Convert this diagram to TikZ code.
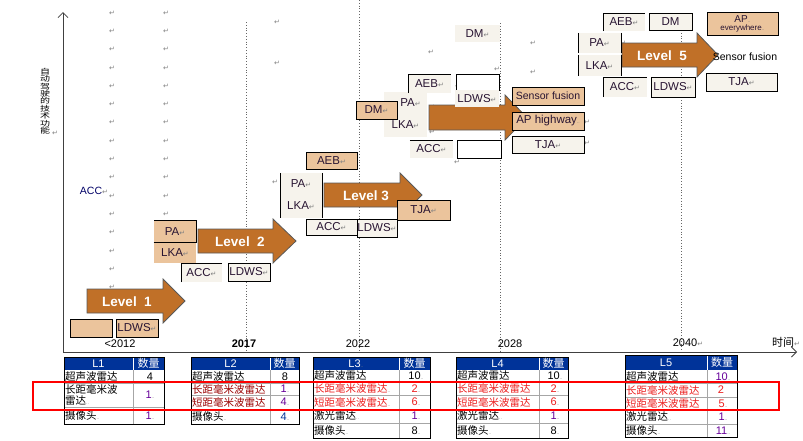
\documentclass[tikz,border=0pt]{standalone}
\usepackage{fontspec}
\usepackage{graphicx}
\setmainfont{Liberation Sans}
\newfontfamily\cjk{Noto Sans CJK SC}
\newfontfamily\symf{DejaVu Sans}
\usetikzlibrary{arrows.meta}
\definecolor{arrowbrown}{RGB}{192,112,40}
\definecolor{tanfill}{RGB}{235,196,156}
\definecolor{paperfill}{RGB}{246,243,236}
\definecolor{hdblue}{RGB}{0,51,153}
\definecolor{numpurple}{RGB}{102,0,153}
\definecolor{rowred}{RGB}{235,30,30}
\definecolor{labelink}{RGB}{40,20,50}
\newcommand{\retmark}{{\symf\color{black!50}\fontsize{7}{7}\selectfont ↵}}
\newcommand{\dotmark}{{\color{black!50}\fontsize{5}{5}\selectfont ..}}
\begin{document}
\begin{tikzpicture}[x=1pt, y=-1pt, font=\fontsize{11.5}{12}\selectfont,
  tanbox/.style={fill=tanfill, draw=black, line width=0.6pt, inner sep=0pt, text=labelink},
  paperbox/.style={fill=paperfill, inner sep=0pt, text=labelink},
  framed/.style={draw=black, line width=0.6pt},
  edgeline/.style={black, line width=0.6pt},
  lvlarrow/.style={fill=arrowbrown, draw=black!65, line width=0.8pt},
  lvltext/.style={text=white, font=\fontsize{13.5}{14}\selectfont\bfseries},
  timeline/.style={black!60, dotted, line width=0.8pt},
  axis/.style={black!75, line width=0.8pt, -{Straight Barb[length=5pt,width=10pt]}},
  yearlbl/.style={font=\fontsize{11}{12}\selectfont, inner sep=0pt},
  hdtext/.style={text=white, inner sep=0pt, font=\fontsize{11}{12}\selectfont},
  cell/.style={anchor=west, inner sep=0pt, font=\cjk\fontsize{10.5}{11.5}\selectfont},
  num/.style={inner sep=0pt, font=\fontsize{11}{12}\selectfont},
  tabgrid/.style={black!35, line width=0.6pt},
  tabframe/.style={black, line width=1pt}]
\useasboundingbox (0,0) rectangle (803,440);

% axes and year lines
\coordinate (orig) at (63,352);
\coordinate (ytop) at (63,12);
\coordinate (xend) at (797,352);
\draw[timeline] (246,22) -- (246,352);
\draw[timeline] (359,0) -- (359,352);
\draw[timeline] (500,23) -- (500,352);
\draw[timeline] (681,30) -- (681,352);
\draw[axis] (orig) -- (ytop);
\draw[axis] (orig) -- (xend);
\node[inner sep=0pt] (ylbl) at (45,101) {\scalebox{1}[0.74]{\parbox{11pt}{\centering\lineskiplimit=-20pt\cjk\fontsize{10}{10}\selectfont 自\\动\\驾\\驶\\的\\技\\术\\功\\能}}};
\node[inner sep=0pt] (ylblmark) at (55,133) {\retmark};
\node[yearlbl] (y2012) at (120,344) {<2012};
\node[yearlbl, font=\fontsize{11}{12}\selectfont\bfseries] (y2017) at (244,344) {2017};
\node[yearlbl] (y2022) at (358,344) {2022};
\node[yearlbl] (y2028) at (510,344) {2028};
\node[yearlbl] (y2040) at (688,343) {2040\retmark};
\node[yearlbl] (xlbl) at (786,342) {\cjk 时间\retmark};

% stray paragraph marks
\foreach \i in {0,...,15} \node[inner sep=0pt] (ma\i) at (112,13+18.3*\i) {\retmark};
\foreach \i in {0,...,11} \node[inner sep=0pt] (mb\i) at (166,13+18.3*\i) {\retmark};
\foreach \px/\py [count=\k] in {277/22, 277/63, 431/52, 497/69, 533/43, 533/72, 275/182, 458/86, 432/107, 432/132, 457/162, 587/122, 587/143, 623/43}
  \node[inner sep=0pt] (mc\k) at (\px,\py) {\retmark};
\node[inner sep=0pt, font=\fontsize{10.5}{11}\selectfont, text=black!60!blue] (accold) at (94,191) {ACC\retmark};

% level arrows
\draw[lvlarrow] (87,289) -- (163,289) -- (163,279) -- (185,301) -- (163,323) -- (163,313) -- (87,313) -- cycle;
\node[lvltext] (lvl1) at (127,302) {Level\ \ 1};
\draw[lvlarrow] (198,229) -- (273,229) -- (273,219) -- (296,241) -- (273,263) -- (273,253) -- (198,253) -- cycle;
\node[lvltext] (lvl2) at (240,242) {Level\ \ 2};
\draw[lvlarrow] (324,183) -- (400,183) -- (400,173) -- (422,195) -- (400,217) -- (400,207) -- (324,207) -- cycle;
\node[lvltext] (lvl3) at (366,196) {Level 3};
\draw[lvlarrow] (429,105) -- (505,105) -- (505,95) -- (527,117.5) -- (505,140) -- (505,130) -- (429,130) -- cycle;
\draw[lvlarrow] (622,43) -- (697,43) -- (697,33) -- (718,55) -- (697,77) -- (697,67) -- (622,67) -- cycle;
\node[lvltext] (lvl5) at (662,56) {Level\ \ 5};

% level 1
\node[tanbox, minimum width=42, minimum height=18] (blank1) at (91,328) {};
\node[tanbox, minimum width=42, minimum height=18] (ldws1) at (137,328) {LDWS\retmark};

% level 2
\node[tanbox, draw=none, minimum width=42, minimum height=21] (pa2) at (175,231.5) {PA\retmark};
\node[tanbox, draw=none, minimum width=42, minimum height=21] (lka2) at (175,252.5) {LKA\retmark};
\draw[edgeline] (pa2.south west) -- (pa2.south east) -- (pa2.north east) -- (pa2.north west);
\node[paperbox, minimum width=41, minimum height=19] (acc2) at (201.5,272.5) {ACC\retmark};
\draw[edgeline] (acc2.south west) |- (acc2.north east);
\node[paperbox, framed, minimum width=42, minimum height=18] (ldws2) at (249,272) {LDWS\retmark};

% level 3
\node[tanbox, minimum width=51, minimum height=17] (aeb3) at (331.5,160.5) {AEB\retmark};
\node[paperbox, minimum width=42, minimum height=21] (pa3) at (301,183.5) {PA\retmark};
\node[paperbox, minimum width=42, minimum height=24] (lka3) at (301,206) {LKA\retmark};
\draw[edgeline] (pa3.north west) -- (lka3.south west);
\draw[edgeline] (pa3.north east) -- (lka3.south east);
\node[paperbox, minimum width=51, minimum height=16] (acc3) at (331.5,227) {ACC\retmark};
\draw[edgeline] (acc3.north east) -| (acc3.south west) -- (acc3.south east);
\node[paperbox, framed, minimum width=40, minimum height=18] (ldws3) at (377,228) {LDWS\retmark};
\node[tanbox, minimum width=53, minimum height=20] (tja3) at (423.5,210) {TJA\retmark};

% level 4
\node[paperbox, minimum width=45, minimum height=17] (dm4b) at (477.5,33.5) {DM\retmark};
\node[paperbox, minimum width=43, minimum height=21] (pa4) at (405.5,102.5) {\hspace*{10pt}PA\retmark};
\node[paperbox, minimum width=43, minimum height=24] (lka4) at (405.5,125) {LKA\retmark};
\node[tanbox, minimum width=41, minimum height=18] (dm4a) at (376.5,110) {DM\retmark};
\node[paperbox, minimum width=43, minimum height=19] (aeb4) at (429.5,83.5) {AEB\retmark};
\draw[edgeline] (aeb4.south west) |- (aeb4.north east);
\node[fill=white, framed, minimum width=43, minimum height=16, inner sep=0pt] (blank4a) at (477.5,82) {};
\node[paperbox, minimum width=44, minimum height=17] (ldws4) at (477,98.5) {LDWS\retmark};
\node[paperbox, minimum width=43, minimum height=18] (acc4) at (431.5,149) {ACC\retmark};
\draw[edgeline] (acc4.north west) -- (acc4.north east);
\node[fill=white, framed, minimum width=44, minimum height=18, inner sep=0pt] (blank4b) at (479,149) {};
\node[tanbox, minimum width=72, minimum height=18, font=\fontsize{10.5}{11}\selectfont] (sf4) at (548,96) {Sensor fusion};
\node[tanbox, minimum width=72, minimum height=18] (aph4) at (548,121) {AP highway\dotmark};
\node[paperbox, framed, minimum width=72, minimum height=17] (tja4) at (548,144.5) {TJA\retmark};

% level 5
\node[paperbox, minimum width=42, minimum height=18] (aeb5) at (624,22) {AEB\retmark};
\draw[edgeline] (aeb5.south west) |- (aeb5.north east);
\node[paperbox, framed, minimum width=43, minimum height=17] (dm5) at (670.5,21.5) {DM};
\node[tanbox, minimum width=71, minimum height=23, align=center, font=\fontsize{10}{8}\selectfont] (ape5) at (742.5,23.5) {AP\dotmark\\{\fontsize{8}{8}\selectfont everywhere\dotmark}};
\node[paperbox, minimum width=43, minimum height=20] (pa5) at (599.5,43) {PA\retmark};
\node[paperbox, minimum width=43, minimum height=21] (lka5) at (599.5,65.5) {LKA\retmark};
\draw[edgeline] (pa5.north west) -- (pa5.south west) (lka5.north west) -- (lka5.south west);
\draw[edgeline] (pa5.north east) -- (pa5.south east) (lka5.north east) -- (lka5.south east);
\node[inner sep=0pt, font=\fontsize{10.5}{11}\selectfont] (sf5) at (745,57) {Sensor fusion};
\node[paperbox, framed, minimum width=71, minimum height=18] (tja5) at (741.5,82) {TJA\retmark};
\node[paperbox, minimum width=44, minimum height=20] (acc5) at (625,87) {ACC\retmark};
\draw[edgeline] (acc5.south west) |- (acc5.north east);
\node[paperbox, framed, minimum width=44, minimum height=20] (ldws5) at (673,87) {LDWS\retmark};

% table L1
\fill[hdblue] (64,357) rectangle (164,370);
\foreach \yy in {383,407} \draw[tabgrid] (64,\yy) -- (164,\yy);
\draw[tabgrid] (133,370) -- (133,424);
\draw[white] (133,357) -- (133,370);
\draw[tabframe] (64,357) rectangle (164,424);
\node[hdtext] (l1hd) at (98.5,363.5) {L1};
\node[hdtext] (l1qty) at (148.5,363.5) {\cjk 数量};
\node[cell] (l1a) at (65,376.5) {超声波雷达};
\node[cell, align=left] (l1b) at (65,395) {长距毫米波\\雷达\dotmark};
\node[cell] (l1c) at (65,415.5) {摄像头\dotmark};
\node[num] (l1na) at (150,376.5) {4};
\node[num, text=numpurple] (l1nb) at (150,395) {1\dotmark};
\node[num, text=numpurple] (l1nc) at (150,415.5) {1\dotmark};

% table L2
\fill[hdblue] (191,357) rectangle (299,370);
\foreach \yy in {383,395,409} \draw[tabgrid] (191,\yy) -- (299,\yy);
\draw[tabgrid] (270,370) -- (270,424);
\draw[white] (270,357) -- (270,370);
\draw[tabframe] (191,357) rectangle (299,424);
\node[hdtext] (l2hd) at (230.5,363.5) {L2};
\node[hdtext] (l2qty) at (284.5,363.5) {\cjk 数量};
\node[cell] (l2a) at (192,376.5) {超声波雷达};
\node[cell, text=red!60!black] (l2b) at (192,389) {长距毫米波雷达};
\node[cell, text=red!60!black] (l2c) at (192,402) {短距毫米波雷达};
\node[cell] (l2d) at (192,416.5) {摄像头\dotmark};
\node[num] (l2na) at (285,376.5) {8};
\node[num, text=numpurple] (l2nb) at (285,389) {1\dotmark};
\node[num, text=numpurple] (l2nc) at (285,402) {4\dotmark};
\node[num, text=hdblue] (l2nd) at (285,416.5) {4\dotmark};

% table L3
\fill[hdblue] (313,357) rectangle (430,370);
\foreach \yy in {382,395,409,423} \draw[tabgrid] (313,\yy) -- (430,\yy);
\draw[tabgrid] (399,370) -- (399,438);
\draw[white] (399,357) -- (399,370);
\draw[tabframe] (313,357) rectangle (430,438);
\node[hdtext] (l3hd) at (356,363.5) {L3\dotmark};
\node[hdtext] (l3qty) at (414.5,363.5) {\cjk 数量};
\node[cell] (l3a) at (314,376) {超声波雷达};
\node[cell, text=rowred] (l3b) at (314,388.5) {长距毫米波雷达\dotmark};
\node[cell, text=rowred] (l3c) at (314,402) {短距毫米波雷达\dotmark};
\node[cell] (l3d) at (314,416) {激光雷达\dotmark};
\node[cell] (l3e) at (314,430.5) {摄像头\dotmark};
\node[num] (l3na) at (416,376) {10\dotmark};
\node[num, text=rowred] (l3nb) at (416,388.5) {2\dotmark};
\node[num, text=rowred] (l3nc) at (416,402) {6\dotmark};
\node[num, text=numpurple] (l3nd) at (416,416) {1\dotmark};
\node[num] (l3ne) at (416,430.5) {8\dotmark};

% table L4
\fill[hdblue] (456,357) rectangle (568,370);
\foreach \yy in {382,395,409,423} \draw[tabgrid] (456,\yy) -- (568,\yy);
\draw[tabgrid] (539,370) -- (539,438);
\draw[white] (539,357) -- (539,370);
\draw[tabframe] (456,357) rectangle (568,438);
\node[hdtext] (l4hd) at (497.5,363.5) {L4};
\node[hdtext] (l4qty) at (553.5,363.5) {\cjk 数量};
\node[cell] (l4a) at (457,376) {超声波雷达};
\node[cell, text=rowred] (l4b) at (457,388.5) {长距毫米波雷达};
\node[cell, text=rowred] (l4c) at (457,402) {短距毫米波雷达};
\node[cell] (l4d) at (457,416) {激光雷达\dotmark};
\node[cell] (l4e) at (457,430.5) {摄像头\dotmark};
\node[num] (l4na) at (555,376) {10\dotmark};
\node[num, text=rowred] (l4nb) at (555,388.5) {2\dotmark};
\node[num, text=rowred] (l4nc) at (555,402) {6\dotmark};
\node[num, text=numpurple] (l4nd) at (555,416) {1\dotmark};
\node[num] (l4ne) at (555,430.5) {8\dotmark};

% table L5
\fill[hdblue] (625,355) rectangle (737,370);
\foreach \yy in {383,397,410,424} \draw[tabgrid] (625,\yy) -- (737,\yy);
\draw[tabgrid] (707,370) -- (707,437);
\draw[white] (707,355) -- (707,370);
\draw[tabframe] (625,355) rectangle (737,437);
\node[hdtext] (l5hd) at (666,362.5) {L5};
\node[hdtext] (l5qty) at (722,362.5) {\cjk 数量};
\node[cell] (l5a) at (626,376.5) {超声波雷达};
\node[cell, text=rowred] (l5b) at (626,390) {长距毫米波雷达};
\node[cell, text=rowred] (l5c) at (626,403.5) {短距毫米波雷达};
\node[cell] (l5d) at (626,417) {激光雷达\dotmark};
\node[cell] (l5e) at (626,430.5) {摄像头\dotmark};
\node[num, text=numpurple] (l5na) at (723,376.5) {10\dotmark};
\node[num, text=rowred] (l5nb) at (721,390) {2};
\node[num, text=rowred] (l5nc) at (723,403.5) {5\dotmark};
\node[num, text=numpurple] (l5nd) at (723,417) {1\dotmark};
\node[num, text=numpurple] (l5ne) at (723,430.5) {11\dotmark};

% highlight of the radar rows
\draw[red, line width=1.5pt] (33,382) rectangle (779,410);
\end{tikzpicture}
\end{document}
